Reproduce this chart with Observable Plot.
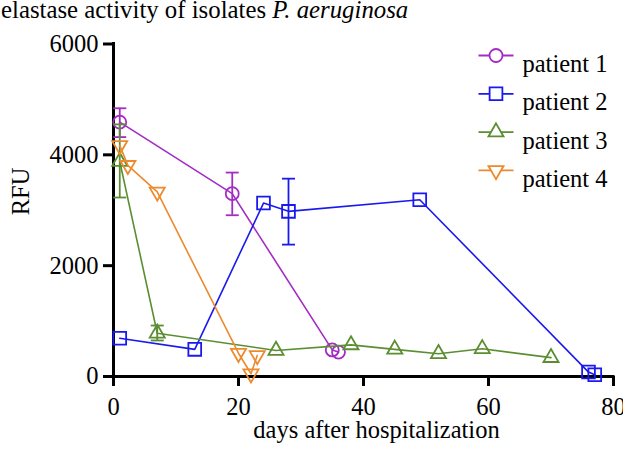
<!DOCTYPE html>
<html><head><meta charset="utf-8">
<script src="https://cdn.jsdelivr.net/npm/d3@7"></script>
<script src="https://cdn.jsdelivr.net/npm/@observablehq/plot@0.6"></script>
<style>
body{margin:0;background:#fff;}
#title{font-family:"Liberation Serif";font-size:24.8px;line-height:24px;height:26px;margin:0;padding:0 0 0 1px;position:relative;top:-2px;white-space:nowrap;color:#000;}
#chart svg{display:block;}
</style></head><body>
<div id="title">elastase activity of isolates <i>P. aeruginosa</i></div>
<div id="chart"></div>
<script>
// ---- data ----
const patients = ["patient 1", "patient 2", "patient 3", "patient 4"];
const colors = ["#a32cc4", "#1a1aee", "#5b8e32", "#ec8a2d"];

const p1Day = [1, 19, 35, 36];
const p1Val = [4590, 3300, 480, 440];
const p2Day = [1, 13, 24, 28, 49, 76, 77];
const p2Val = [690, 490, 3130, 2980, 3190, 80, 30];
const p3Day = [1, 7, 26, 38, 45, 52, 59, 70];
const p3Val = [3880, 780, 470, 570, 490, 410, 500, 340];
const p4Day = [1, 2.3, 7, 20, 22, 23];
const p4Val = [4170, 3810, 3330, 420, 50, 380];

// error bars: patient index, day, low, high
const errPatient = [0, 0, 1, 2, 2];
const errDay = [1, 19, 28, 1, 7];
const errLo = [4320, 2910, 2380, 3230, 650];
const errHi = [4840, 3680, 3570, 4550, 920];

const xTicks = [0, 20, 40, 60, 80];
const yTicks = [0, 2000, 4000, 6000];
const xLabel = "days after hospitalization";
const yLabel = "RFU";

// ---- build tables ----
const series = [[p1Day, p1Val], [p2Day, p2Val], [p3Day, p3Val], [p4Day, p4Val]]
  .map(([d, v], i) => d.map((day, j) => ({patient: patients[i], day, val: v[j]})));
const errs = errDay.map((day, i) => ({patient: patients[errPatient[i]], day, lo: errLo[i], hi: errHi[i]}));

// ---- symbols ----
const sqrt3 = Math.sqrt(3);
const dash = {draw(ctx, size) { const r = Math.sqrt(size / Math.PI); ctx.moveTo(-r, 0); ctx.lineTo(r, 0); }};
const triUp = {draw(ctx, size) { const y = -Math.sqrt(size / (sqrt3 * 3)); ctx.moveTo(0, y * 2); ctx.lineTo(-sqrt3 * y, -y); ctx.lineTo(sqrt3 * y, -y); ctx.closePath(); }};
const triDown = {draw(ctx, size) { const y = Math.sqrt(size / (sqrt3 * 3)); ctx.moveTo(0, y * 2); ctx.lineTo(-sqrt3 * y, -y); ctx.lineTo(sqrt3 * y, -y); ctx.closePath(); }};
const symbols = ["circle", "square", triUp, triDown];
const radii = [6.5, 7.2, 5.6, 5.6];
const FS = 24.5;

const marks = [
  Plot.ruleX([0], {y1: 0, y2: 6000, strokeWidth: 3, strokeLinecap: "square"}),
  Plot.ruleY([0], {x1: 0, x2: 80, strokeWidth: 3, strokeLinecap: "square"}),
  Plot.axisX({ticks: xTicks, tickSize: 10, tickPadding: 11, strokeWidth: 3, fontSize: FS, label: null, tickFormat: d => String(d)}),
  Plot.axisY({ticks: yTicks, tickSize: 10, tickPadding: 5, strokeWidth: 3, fontSize: FS, label: null, tickFormat: d => String(d)}),
  Plot.text([xLabel], {frameAnchor: "bottom", dx: 13, dy: 61, fontSize: FS, fill: "black"}),
  Plot.text([yLabel], {frameAnchor: "left", rotate: -90, dx: -92.5, dy: 5, fontSize: FS, fill: "black"})
];

series.forEach((rows, i) => {
  const c = colors[i];
  const e = errs.filter(d => d.patient === patients[i]);
  marks.push(
    Plot.ruleX(e, {x: "day", y1: "lo", y2: "hi", stroke: c, strokeWidth: 1.8}),
    Plot.dot(e, {x: "day", y: "lo", symbol: dash, r: 6.5, stroke: c, strokeWidth: 1.8}),
    Plot.dot(e, {x: "day", y: "hi", symbol: dash, r: 6.5, stroke: c, strokeWidth: 1.8}),
    Plot.line(rows, {x: "day", y: "val", stroke: c, strokeWidth: 1.6}),
    Plot.dot(rows, {x: "day", y: "val", symbol: symbols[i], r: radii[i], stroke: c, strokeWidth: 1.8, fill: "none"})
  );
  // legend entry
  const rowY = 55 + 38.3 * i - 43.5;
  marks.push(
    Plot.dot([0], {frameAnchor: "top-left", dx: 382.5, dy: rowY, symbol: dash, r: 17.5, stroke: c, strokeWidth: 1.8}),
    Plot.dot([0], {frameAnchor: "top-left", dx: 382.5, dy: rowY, symbol: symbols[i], r: radii[i], stroke: c, strokeWidth: 1.8, fill: "white"}),
    Plot.text([patients[i]], {frameAnchor: "top-left", dx: 409, dy: rowY - 1, textAnchor: "start", fontSize: FS, fill: "black"})
  );
});

const chart = Plot.plot({
  width: 623, height: 426,
  marginLeft: 113, marginRight: 10, marginTop: 17.5, marginBottom: 76,
  style: {fontFamily: "Liberation Serif", fontSize: FS + "px", color: "black", background: "white"},
  x: {domain: [0, 80]},
  y: {domain: [0, 6000]},
  marks
});
document.getElementById("chart").append(chart);
</script></body></html>
